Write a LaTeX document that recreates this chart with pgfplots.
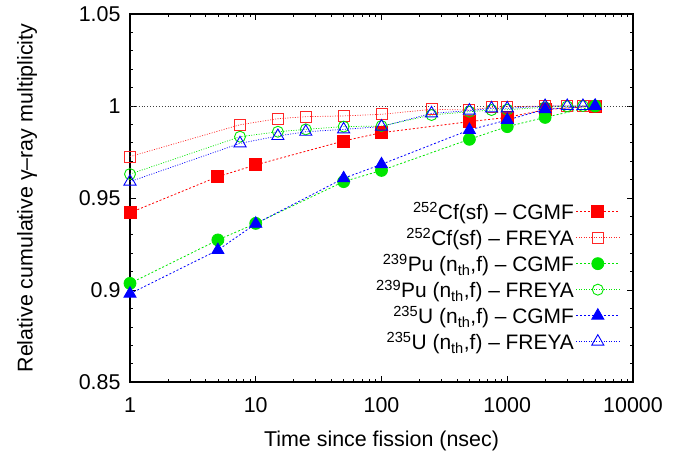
\documentclass[border=0pt]{standalone}
\usepackage{fontspec}
\setmainfont{Liberation Sans}
\usepackage{pgfplots}
\pgfplotsset{compat=1.18}
\definecolor{cred}{RGB}{255,0,0}
\definecolor{cgreen}{RGB}{0,230,0}
\definecolor{cblue}{RGB}{0,0,255}
\begin{document}
\begin{tikzpicture}
\begin{axis}[
  at={(0,0)}, anchor=south west,
  scale only axis, width=503bp, height=368bp,
  xmode=log, xmin=1, xmax=10000, ymin=0.85, ymax=1.05,
  xtick={1,10,100,1000,10000}, xticklabels={1,10,100,1000,10000},
  ytick={0.85,0.9,0.95,1,1.05}, yticklabels={0.85,0.9,0.95,1,1.05},
  minor y tick num=4,
  tick align=inside, tick pos=both,
  major tick length=6bp, minor tick length=3.5bp,
  every tick/.style={black, line width=0.6bp},
  axis line style={black, line width=1.1bp},
  /pgf/number format/assume math mode=true,
  tick label style={font=\fontsize{21.5}{25}\selectfont},
  xticklabel style={yshift=-12bp},
  yticklabel style={xshift=-6bp},
  label style={font=\fontsize{21.5}{25}\selectfont},
  xlabel={Time since fission (nsec)},
  ylabel={Relative cumulative γ–ray multiplicity},
  xlabel style={yshift=-11bp},
  ylabel style={yshift=35bp},
  legend style={draw=none, fill=none, at={(0.974,0.495)}, anchor=north east,
    font=\fontsize{21}{24}\selectfont, row sep=2.8bp, inner sep=0pt},
  legend cell align=right, legend plot pos=right,
  legend image code/.code={\draw[mark repeat=2,mark phase=2,#1] plot coordinates {(0bp,0bp) (21.5bp,0bp) (43bp,0bp)};},
  legend style={/tikz/every even column/.append style={column sep=14bp}},
]
\addplot[black!75, dotted, line width=0.9bp, forget plot] coordinates {(1,1) (10000,1)};
\addplot[cred, line width=0.8bp, dash pattern=on 2bp off 2bp, mark=square*, mark size=6bp, mark options={solid}]
 coordinates {(1,0.942) (5,0.9616) (10,0.968) (50,0.981) (100,0.9855) (500,0.9915) (1000,0.9938) (2000,0.998) (5000,1.0)};
\addlegendentry{\textsuperscript{252}Cf(sf) – CGMF}
\addplot[cred!85, line width=0.7bp, dash pattern=on 1bp off 1.5bp, mark=square, mark size=5.5bp, mark options={solid, line width=0.9bp}]
 coordinates {(1,0.9725) (7.5,0.9898) (15,0.9931) (25,0.9942) (50,0.9946) (100,0.9955) (250,0.9982) (500,0.9978) (750,0.9993) (1000,0.9996) (2000,1.0) (3000,1.0) (4000,1.0) (5000,1.0)};
\addlegendentry{\textsuperscript{252}Cf(sf) – FREYA}
\addplot[cgreen, line width=0.8bp, dash pattern=on 2bp off 2bp, mark=*, mark size=6bp, mark options={solid}]
 coordinates {(1,0.9036) (5,0.9272) (10,0.9362) (50,0.9589) (100,0.965) (500,0.9819) (1000,0.9888) (2000,0.9938) (5000,1.0)};
\addlegendentry{\textsuperscript{239}Pu (n\textsubscript{th},f) – CGMF}
\addplot[cgreen, line width=0.7bp, dash pattern=on 1bp off 1.5bp, mark=o, mark size=5.5bp, mark options={solid, line width=0.9bp}]
 coordinates {(1,0.963) (7.5,0.9833) (15,0.986) (25,0.9873) (50,0.9888) (100,0.9891) (250,0.9951) (500,0.9969) (750,0.9978) (1000,0.998) (2000,0.9993) (3000,0.9998) (4000,1.0) (5000,1.0)};
\addlegendentry{\textsuperscript{239}Pu (n\textsubscript{th},f) – FREYA}
\addplot[cblue, line width=0.8bp, dash pattern=on 2bp off 2bp, mark=triangle*, mark size=7bp, mark options={solid}]
 coordinates {(1,0.898) (5,0.9217) (10,0.936) (50,0.9607) (100,0.9683) (500,0.987) (1000,0.9924) (2000,0.9982) (5000,1.0)};
\addlegendentry{\textsuperscript{235}U (n\textsubscript{th},f) – CGMF}
\addplot[cblue, line width=0.7bp, dash pattern=on 1bp off 1.5bp, mark=triangle, mark size=7bp, mark options={solid, line width=0.9bp}]
 coordinates {(1,0.9589) (7.5,0.9797) (15,0.9837) (25,0.986) (50,0.9873) (100,0.9888) (250,0.996) (500,0.9975) (750,0.9987) (1000,0.9987) (2000,1.0) (3000,1.0) (4000,1.0) (5000,1.0)};
\addlegendentry{\textsuperscript{235}U (n\textsubscript{th},f) – FREYA}
\end{axis}
\pgfresetboundingbox
\path[use as bounding box] (-130bp,-73bp) rectangle (561bp,382bp);
\end{tikzpicture}
\end{document}
